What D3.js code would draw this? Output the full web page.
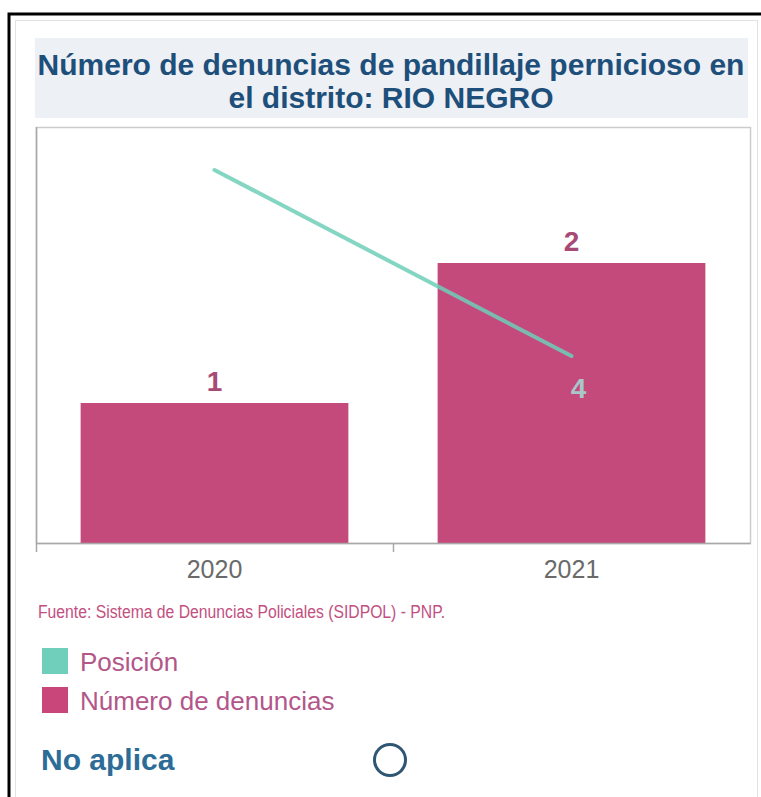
<!DOCTYPE html>
<html lang="es">
<head>
    <meta charset="UTF-8" />
    <title>Denuncias RIO NEGRO</title>
    <script src="https://d3js.org/d3.v7.min.js"></script>
    <style>
        body { margin: 0; background: #fff; }
        svg text { font-family: "Liberation Sans", Arial, sans-serif; }
    </style>
</head>
<body>
    <script>
        // data
        var years = ["2020", "2021"];
        var denuncias = [1, 2];
        var posicion = [1, 4];
        var posicionLabels = ["", "4"];
        var titleLines = ["Número de denuncias de pandillaje pernicioso en", "el distrito: RIO NEGRO"];
        var legendItems = ["Posición", "Número de denuncias"];

        var w = 761;
        var h = 797;
        var plot = { left: 36, right: 750, top: 127, bottom: 543 };

        var svg = d3.select("body")
            .append("svg")
            .attr("width", w)
            .attr("height", h);

        // outer frame (black) and dotted inner frame
        svg.append("rect")
            .attr("x", 9).attr("y", 14)
            .attr("width", w + 10).attr("height", h + 10)
            .attr("fill", "white")
            .attr("stroke", "black")
            .attr("stroke-width", 3);
        svg.append("rect")
            .attr("x", 15.5).attr("y", 20.5)
            .attr("width", 742).attr("height", h)
            .attr("fill", "none")
            .attr("stroke", "#c4c4c4")
            .attr("stroke-dasharray", "1,1");

        // title box
        svg.append("rect")
            .attr("x", 35).attr("y", 38)
            .attr("width", 713).attr("height", 80)
            .attr("fill", "#edf0f4");
        svg.selectAll(".title")
            .data(titleLines)
            .enter()
            .append("text")
            .attr("class", "title")
            .attr("x", 391)
            .attr("y", function (d, i) { return 75 + i * 33; })
            .attr("text-anchor", "middle")
            .attr("font-size", 30)
            .attr("font-weight", "bold")
            .attr("fill", "#1e4f7b")
            .text(function (d) { return d; });

        // plot box
        svg.append("rect")
            .attr("x", plot.left + 0.5).attr("y", plot.top + 0.5)
            .attr("width", plot.right - plot.left).attr("height", plot.bottom - plot.top)
            .attr("fill", "white")
            .attr("stroke", "#cccccc")
            .attr("stroke-width", 1.5);

        var xScale = d3.scaleBand()
            .domain(years)
            .range([plot.left, plot.right])
            .paddingInner(0.25)
            .paddingOuter(0.125);

        var yScale = d3.scaleLinear()
            .domain([0, 3])
            .range([plot.bottom, 123]);

        // position is a rank, drawn on its own scale
        var yPos = d3.scaleLinear()
            .domain([0, 7])
            .range([108, 542]);

        svg.selectAll(".bar")
            .data(denuncias)
            .enter()
            .append("rect")
            .attr("class", "bar")
            .attr("x", function (d, i) { return xScale(years[i]); })
            .attr("y", function (d) { return yScale(d); })
            .attr("width", xScale.bandwidth())
            .attr("height", function (d) { return yScale(0) - yScale(d); })
            .attr("fill", "#c44a7b");

        svg.selectAll(".barLabel")
            .data(denuncias)
            .enter()
            .append("text")
            .attr("class", "barLabel")
            .attr("x", function (d, i) { return xScale(years[i]) + xScale.bandwidth() / 2; })
            .attr("y", function (d) { return yScale(d) - 12; })
            .attr("text-anchor", "middle")
            .attr("font-size", 28)
            .attr("font-weight", "bold")
            .attr("fill", "#a84a76")
            .text(function (d) { return d; });

        // x axis: bottom line and ticks at band edges
        var xAxis = d3.axisBottom(xScale).tickSize(0).tickPadding(17);
        var gx = svg.append("g")
            .attr("transform", "translate(0," + plot.bottom + ")")
            .call(xAxis);
        gx.select(".domain").attr("stroke", "#a8a8a8").attr("stroke-width", 1.5);
        gx.selectAll("text")
            .attr("font-size", 25)
            .attr("fill", "#6a6a6a")
            .attr("font-family", "Liberation Sans, Arial, sans-serif");
        var edges = [plot.left, (xScale(years[0]) + xScale.bandwidth() + xScale(years[1])) / 2];
        svg.selectAll(".edgeTick")
            .data(edges)
            .enter()
            .append("line")
            .attr("class", "edgeTick")
            .attr("x1", function (d) { return d + 0.5; })
            .attr("x2", function (d) { return d + 0.5; })
            .attr("y1", function (d, i) { return i == 0 ? plot.top : plot.bottom; })
            .attr("y2", plot.bottom + 9)
            .attr("stroke", "#a8a8a8")
            .attr("stroke-width", 1.5);

        // position line
        var line = d3.line()
            .x(function (d, i) { return xScale(years[i]) + xScale.bandwidth() / 2; })
            .y(function (d) { return yPos(d); });

        svg.append("path")
            .datum(posicion)
            .attr("d", line)
            .attr("fill", "none")
            .attr("stroke", "#6fcfb9")
            .attr("stroke-opacity", 0.85)
            .attr("stroke-width", 4)
            .attr("stroke-linecap", "round");

        svg.selectAll(".posLabel")
            .data(posicion)
            .enter()
            .append("text")
            .attr("class", "posLabel")
            .attr("x", function (d, i) { return xScale(years[i]) + xScale.bandwidth() / 2 + 7; })
            .attr("y", function (d) { return yPos(d) + 42; })
            .attr("text-anchor", "middle")
            .attr("font-size", 28)
            .attr("font-weight", "bold")
            .attr("fill", "#a9c6c8")
            .text(function (d, i) { return posicionLabels[i]; });

        // source note (narrow face in the original)
        svg.append("text")
            .attr("x", 38)
            .attr("y", 618)
            .attr("font-size", 18)
            .attr("fill", "#c2507f")
            .attr("textLength", 407)
            .attr("lengthAdjust", "spacingAndGlyphs")
            .text("Fuente: Sistema de Denuncias Policiales (SIDPOL) - PNP.");

        // legend
        var legendColors = ["#70cfba", "#c8467a"];
        var legend = svg.selectAll(".legend")
            .data(legendItems)
            .enter()
            .append("g")
            .attr("class", "legend")
            .attr("transform", function (d, i) { return "translate(42," + (648 + i * 39) + ")"; });
        legend.append("rect")
            .attr("width", 26)
            .attr("height", 26)
            .attr("fill", function (d, i) { return legendColors[i]; });
        legend.append("text")
            .attr("x", 38)
            .attr("y", 23)
            .attr("font-size", 26)
            .attr("fill", "#b3568a")
            .text(function (d) { return d; });

        // "No aplica" indicator
        svg.append("text")
            .attr("x", 41)
            .attr("y", 770)
            .attr("font-size", 30)
            .attr("font-weight", "bold")
            .attr("fill", "#2d6c96")
            .text("No aplica");
        svg.append("circle")
            .attr("cx", 390)
            .attr("cy", 760)
            .attr("r", 15.5)
            .attr("fill", "none")
            .attr("stroke", "#2f5673")
            .attr("stroke-width", 3);
    </script>
</body>
</html>
